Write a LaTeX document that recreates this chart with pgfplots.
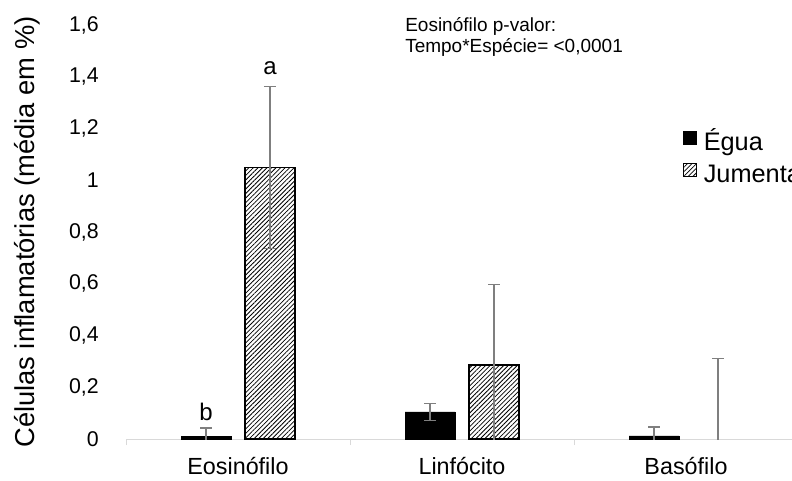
\documentclass[border=0pt]{standalone}
\usepackage{fontspec}
\setmainfont{Liberation Sans}
\usepackage{pgfplots}
\pgfplotsset{compat=1.18}
\usepackage{pgfplotstable}
\usetikzlibrary{patterns.meta}

\definecolor{errgray}{RGB}{127,127,127}
\definecolor{axisgray}{RGB}{217,217,217}

% Mean percentage of inflammatory cells and their standard deviations
\pgfplotstableread{
idx egua eguaerr jum jumerr
0 0.010 0.032 1.050 0.313
1 0.105 0.033 0.286 0.312
2 0.012 0.034 0.000 0.312
}\celulas

\pgfplotsset{
  errbars/.style={
    draw=none, mark=none, forget plot,
    error bars/.cd,
      y dir=both, y explicit,
      error bar style={draw=errgray, line width=1pt},
      error mark options={rotate=90, mark size=4.5pt, draw=errgray, line width=1pt},
  },
  squarelegend/.style={
    legend image code/.code={\draw[##1, line width=0.8pt] (0pt,0pt) rectangle (9.5pt,9.5pt);}
  },
}

\begin{document}
\begin{tikzpicture}
\begin{axis}[
  at={(94.5pt,30.75pt)}, anchor=south west,
  scale only axis, width=504pt, height=310.5pt,
  xmin=-0.5, xmax=2.5, ymin=0, ymax=1.6,
  axis lines*=left,
  y axis line style={draw=none},
  x axis line style={draw=axisgray, line width=0.75pt},
  xtick={0,1,2},
  xticklabels={Eosinófilo,Linfócito,Basófilo},
  xtick style={draw=none},
  extra x ticks={-0.5,0.5,1.5,2.5},
  extra x tick labels={},
  extra x tick style={xtick style={draw=axisgray, line width=0.75pt}},
  major tick length=4.5pt, tick align=outside,
  ytick={0,0.2,...,1.6},
  ytick style={draw=none},
  /pgf/number format/.cd, use comma, assume math mode=true, /pgfplots/.cd,
  yticklabel style={font=\fontsize{16}{19}\selectfont, anchor=east, inner sep=0pt, xshift=-15.75pt},
  xticklabel style={font=\fontsize{17.5}{20}\selectfont, anchor=base, inner sep=0pt, yshift=-22pt},
  ylabel={Células inflamatórias (média em \%)},
  every axis y label/.style={at={(axis description cs:-0.1473,0.5)}, rotate=90, anchor=center,
    font=\fontsize{20.5}{23}\selectfont},
  legend style={at={(axis description cs:0.829,0.745)}, anchor=north west,
    draw=none, fill=none, inner sep=0pt, row sep=5.75pt,
    font=\fontsize{19}{21}\selectfont,
    nodes={inner sep=0pt, text height=13.5pt, text depth=4pt},
    /tikz/every odd column/.append style={column sep=5pt}},
  legend cell align=left,
]
% bars
\addplot[ybar, bar width=37.5pt, bar shift=-24pt, fill=black, draw=black, squarelegend]
  table[x=idx, y=egua] {\celulas};
\addlegendentry{Égua}
\addplot[ybar, bar width=37.5pt, bar shift=24pt, draw=black, line width=1.2pt,
  pattern={Lines[angle=45, distance=2.4pt, line width=0.6pt]}, pattern color=black,
  y filter/.expression={y==0 ? nan : y}, unbounded coords=discard, squarelegend]
  table[x=idx, y=jum] {\celulas};
\addlegendentry{Jumenta}
% standard deviations, at the centre of each bar
\addplot[errbars] table[x expr=\thisrow{idx}-1/7, y=egua, y error=eguaerr] {\celulas};
\addplot[errbars] table[x expr=\thisrow{idx}+1/7, y=jum, y error=jumerr] {\celulas};
% significance letters
\node[anchor=base, font=\fontsize{18}{20}\selectfont, yshift=9pt] at (axis cs:0.1429,1.363) {a};
\node[anchor=base, font=\fontsize{18}{20}\selectfont, yshift=6pt] at (axis cs:-0.1429,0.042) {b};
\end{axis}
\node[anchor=base west, inner sep=0pt, font=\fontsize{14.25}{16}\selectfont] at (303.75pt,336.5pt) {Eosinófilo p-valor:};
\node[anchor=base west, inner sep=0pt, font=\fontsize{14.25}{16}\selectfont] at (303.75pt,320.9pt) {Tempo*Espécie= <0,0001};
\pgfresetboundingbox
\path (0pt,0pt) rectangle (594pt,360pt);
\end{tikzpicture}
\end{document}
